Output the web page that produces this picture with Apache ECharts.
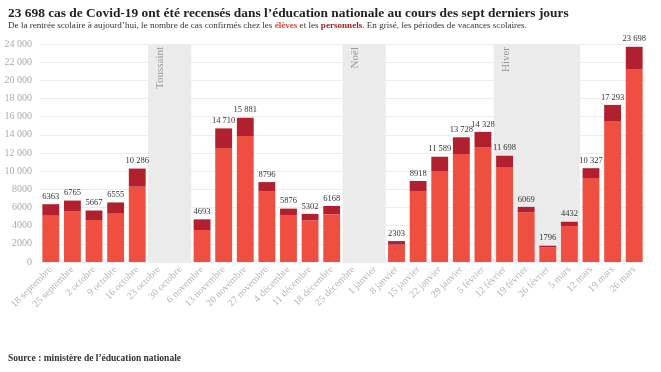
<!DOCTYPE html>
<html><head><meta charset="utf-8">
<script src="https://cdn.jsdelivr.net/npm/echarts@6/dist/echarts.min.js"></script>
<style>html,body{margin:0;padding:0;background:#fff}#c{width:661px;height:372px}</style>
</head><body><div id="c"></div>
<script>
const categories = ['18 septembre','25 septembre','2 octobre','9 octobre','16 octobre','23 octobre','30 octobre','6 novembre','13 novembre','20 novembre','27 novembre','4 décembre','11 décembre','18 décembre','25 décembre','1 janvier','8 janvier','15 janvier','22 janvier','29 janvier','5 février','12 février','19 février','26 février','5 mars','12 mars','19 mars','26 mars'];
const totals = [6363,6765,5667,6555,10286,null,null,4693,14710,15881,8796,5876,5302,6168,null,null,2303,8918,11589,13728,14328,11698,6069,1796,4432,10327,17293,23698];
const eleves = [5100,5600,4620,5320,8290,null,null,3520,12510,13870,7820,5170,4590,5250,null,null,1910,7820,10020,11890,12590,10460,5470,1620,3960,9250,15520,21250];
const personnels = [1263,1165,1047,1235,1996,null,null,1173,2200,2011,976,706,712,918,null,null,393,1098,1569,1838,1738,1238,599,176,472,1077,1773,2448];
const vacances = [
  {name:'Toussaint', from:'23 octobre', to:'30 octobre'},
  {name:'Noël', from:'25 décembre', to:'1 janvier'},
  {name:'Hiver', from:'12 février', to:'5 mars'}
];
const yTicks = {min:0, max:24000, step:2000};

function fr(v){ if(v==null) return ''; const s=String(v); return v>=10000 ? s.replace(/\B(?=(\d{3})+(?!\d))/g,' ') : s; }

const chart = echarts.init(document.getElementById('c'));
const serif = 'Liberation Serif';
chart.setOption({
  animation:false,
  title:{
    text:'23 698 cas de Covid-19 ont été recensés dans l’éducation nationale au cours des sept derniers jours',
    subtext:'De la rentrée scolaire à aujourd’hui, le nombre de cas confirmés chez les {e|élèves} et les {p|personnels}. En grisé, les périodes de vacances scolaires.',
    left:3, top:2, itemGap:1,
    textStyle:{fontFamily:serif, fontWeight:'bold', fontSize:13.4, color:'#222'},
    subtextStyle:{fontFamily:serif, fontSize:9.1, color:'#333',
      rich:{e:{fontFamily:serif,fontSize:9.1,color:'#e8483c',fontWeight:'bold'},p:{fontFamily:serif,fontSize:9.1,color:'#a51d2a',fontWeight:'bold'}}}
  },
  graphic:[{type:'text', left:8, top:354, style:{text:'Source : ministère de l’éducation nationale', font:'bold 9.5px "Liberation Serif"', fill:'#333'}}],
  grid:{left:40, right:16, top:44, bottom:110},
  xAxis:[{
    type:'category', data:categories,
    axisLine:{show:false},
    axisTick:{alignWithLabel:true, length:3, lineStyle:{color:'#ccc'}},
    axisLabel:{interval:0, rotate:45, fontFamily:serif, fontSize:10, color:'#b5b5b5', margin:6}
  },{
    type:'value', min:0, max:categories.length, show:false
  }],
  yAxis:{
    type:'value', min:yTicks.min, max:yTicks.max, interval:yTicks.step,
    axisLine:{show:false}, axisTick:{show:false},
    axisLabel:{formatter:fr, fontFamily:serif, fontSize:10, color:'#aaa', margin:8},
    splitLine:{lineStyle:{color:'#ececec'}}
  },
  series:[
    {type:'line', xAxisIndex:1, data:[[0,0]], symbol:'none', lineStyle:{opacity:0}, silent:true, z:1,
     markArea:{silent:true, itemStyle:{color:'#ebebeb'},
       label:{show:true, position:[7,3], rotate:90, align:'right', verticalAlign:'top', fontFamily:serif, fontSize:11, color:'#999'},
       data:vacances.map(v=>[{name:v.name, xAxis:categories.indexOf(v.from), yAxis:yTicks.max},{xAxis:categories.indexOf(v.to)+1, yAxis:yTicks.min}])}
    },
    {name:'élèves', type:'bar', stack:'s', data:eleves, barCategoryGap:'22%', z:3,
     itemStyle:{color:'#ef4f40'}},
    {name:'personnels', type:'bar', stack:'s', data:personnels, z:3,
     itemStyle:{color:'#b0202e'},
     label:{show:true, position:'top', distance:3, fontFamily:serif, fontSize:8.5, color:'#333',
       formatter:p=>fr(totals[p.dataIndex])}}
  ]
});
</script></body></html>
